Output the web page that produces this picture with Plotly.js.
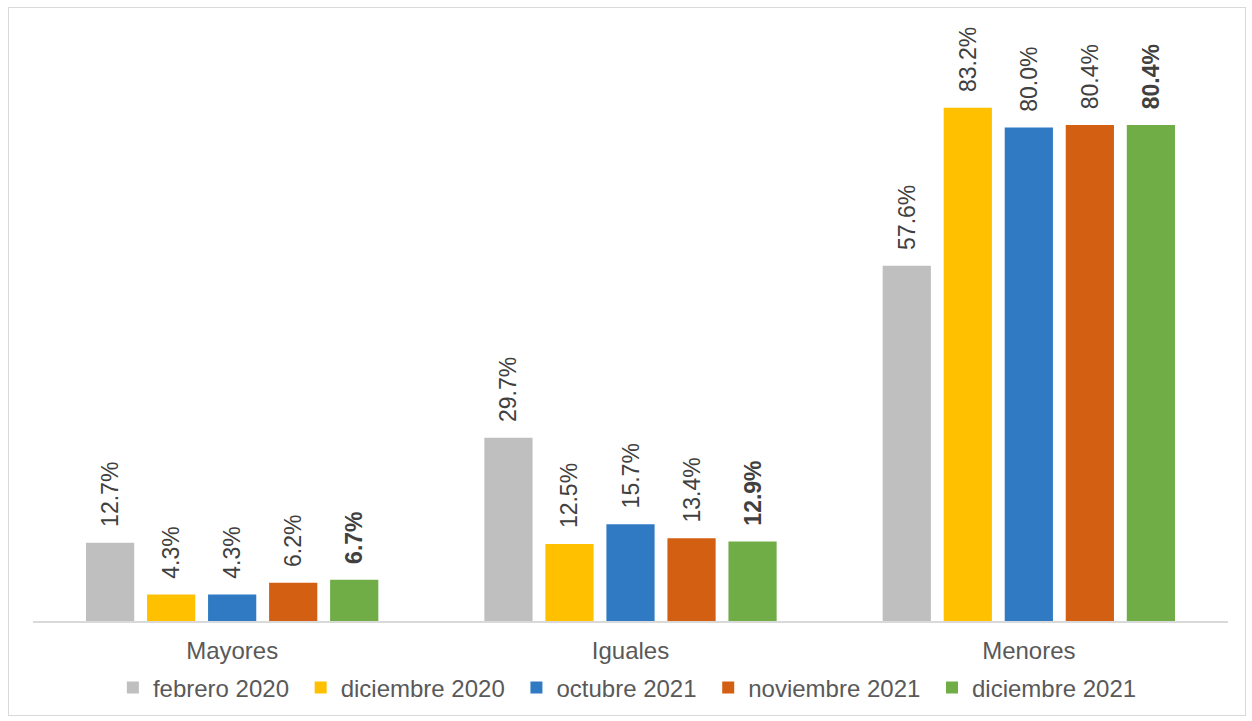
<!DOCTYPE html>
<html>
<head>
<meta charset="utf-8">
<script src="https://cdn.plot.ly/plotly-3.0.1.min.js"></script>
<style>
  html, body { margin: 0; padding: 0; background: #fff; }
  #chart { width: 1252px; height: 721px; }
  #frame { position: absolute; left: 8px; top: 7px; width: 1236px; height: 707px; border: 1px solid #d9d9d9; pointer-events: none; }
</style>
</head>
<body>
<div id="chart"></div>
<div id="frame"></div>
<script>
const categories = ['Mayores', 'Iguales', 'Menores'];
const seriesNames = ['febrero 2020', 'diciembre 2020', 'octubre 2021', 'noviembre 2021', 'diciembre 2021'];
const febrero2020 = [12.7, 29.7, 57.6];
const diciembre2020 = [4.3, 12.5, 83.2];
const octubre2021 = [4.3, 15.7, 80.0];
const noviembre2021 = [6.2, 13.4, 80.4];
const diciembre2021 = [6.7, 12.9, 80.4];
const seriesValues = [febrero2020, diciembre2020, octubre2021, noviembre2021, diciembre2021];
const colors = ['#BFBFBF', '#FFC000', '#2F7AC3', '#D35F12', '#70AD47'];

const traces = seriesValues.map((vals, i) => ({
  type: 'bar',
  name: seriesNames[i] + '\u00a0',
  x: categories,
  y: vals,
  marker: { color: colors[i] },
  texttemplate: i === 4 ? '\u00a0\u00a0<b>%{y:.1f}%</b>' : '\u00a0\u00a0%{y:.1f}%',
  textposition: 'outside',
  textangle: -90,
  constraintext: 'none',
  cliponaxis: false,
  textfont: { family: 'Liberation Sans, Arial, sans-serif', size: 23, color: '#404040' },
  hoverinfo: 'skip'
}));

const layout = {
  width: 1252,
  height: 721,
  margin: { l: 33, r: 24, t: 35, b: 100, autoexpand: false },
  paper_bgcolor: '#ffffff',
  plot_bgcolor: '#ffffff',
  barmode: 'group',
  bargap: 0.234,
  bargroupgap: 0.21,
  showlegend: true,
  legend: {
    orientation: 'h',
    xref: 'container', yref: 'container',
    x: 0.5035, xanchor: 'center',
    y: 0.0458, yanchor: 'middle',
    font: { family: 'Liberation Sans, Arial, sans-serif', size: 24, color: '#595959' },
    itemclick: false
  },
  xaxis: {
    automargin: false,
    showline: true,
    linecolor: '#D9D9D9',
    linewidth: 2,
    ticks: 'outside',
    ticklen: 7,
    tickcolor: 'rgba(0,0,0,0)',
    tickfont: { family: 'Liberation Sans, Arial, sans-serif', size: 24, color: '#595959' },
    showgrid: false,
    zeroline: false
  },
  yaxis: {
    range: [0, 95],
    visible: false,
    showgrid: false,
    zeroline: false
  },
  font: { family: 'Liberation Sans, Arial, sans-serif' }
};

Plotly.newPlot('chart', traces, layout, { displayModeBar: false, staticPlot: true });
</script>
</body>
</html>
